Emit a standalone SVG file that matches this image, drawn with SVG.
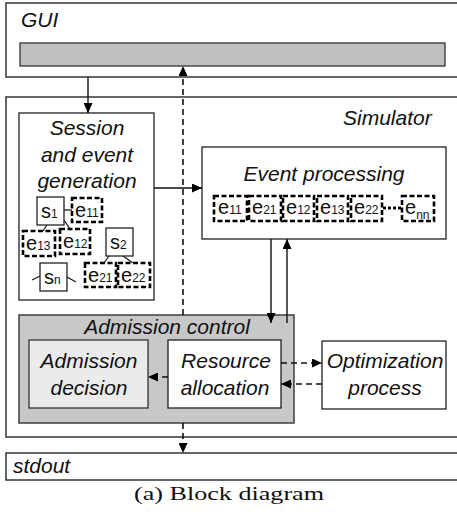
<svg xmlns="http://www.w3.org/2000/svg" width="457" height="516" viewBox="0 0 457 516">
  <style>
    .frame { fill: #fff; stroke: #333; stroke-width: 1.5; }
    .box { fill: #fff; stroke: #222; stroke-width: 1.3; }
    .lbl { font-family: "Liberation Sans", Arial, sans-serif; font-style: italic; font-size: 21px; fill: #111; }
    .mid { text-anchor: middle; }
    .ev { fill: #fff; stroke: #000; stroke-width: 2.6; stroke-dasharray: 5 2.5; }
    .sym { font-family: "Liberation Sans", Arial, sans-serif; font-size: 20px; fill: #111; }
    .sub { font-size: 12px; }
    .link { stroke: #111; stroke-width: 1.2; fill: none; }
    .solid { stroke: #111; stroke-width: 1.4; fill: none; marker-end: url(#head); }
    .dash { stroke: #111; stroke-width: 1.6; fill: none; stroke-dasharray: 6 4; marker-end: url(#head); }
  </style>
  <defs>
    <marker id="head" markerUnits="userSpaceOnUse" markerWidth="10" markerHeight="9" refX="10" refY="4.5" orient="auto">
      <path d="M0,0 L10,4.5 L0,9 z" fill="#000"/>
    </marker>
  </defs>

  <rect width="457" height="516" fill="#fff"/>

  <!-- GUI layer -->
  <g id="gui">
    <rect class="frame" x="6" y="3" width="470" height="74"/>
    <text class="lbl" x="21" y="27" font-size="20">GUI</text>
    <rect x="20" y="43" width="425" height="23" fill="#c0c0c0" stroke="#333" stroke-width="1.3"/>
  </g>

  <!-- Simulator layer -->
  <g id="simulator">
    <rect class="frame" x="6" y="97" width="470" height="340"/>
    <text class="lbl" x="343" y="125" font-size="20">Simulator</text>
  </g>

  <!-- stdout layer -->
  <g id="stdout">
    <rect class="frame" x="6" y="453" width="470" height="27"/>
    <text class="lbl" x="13" y="473" font-size="19">stdout</text>
  </g>

  <!-- Session and event generation -->
  <g id="session-generation">
    <rect class="box" x="19" y="113" width="135" height="187"/>
    <text class="lbl mid" x="87" y="135">Session</text>
    <text class="lbl mid" x="87" y="162">and event</text>
    <text class="lbl mid" x="87" y="188">generation</text>

    <!-- session s1 and its events -->
    <line class="link" x1="64" y1="210" x2="72" y2="210"/>
    <line class="link" x1="47" y1="225" x2="43" y2="231"/>
    <line class="link" x1="64" y1="220" x2="70" y2="229"/>
    <rect class="box" x="37" y="197" width="27" height="28"/>
    <text class="sym" x="41" y="218">s<tspan class="sub">1</tspan></text>
    <rect class="ev" x="72" y="198" width="30" height="24"/>
    <text class="sym" x="75" y="217">e<tspan class="sub">11</tspan></text>
    <rect class="ev" x="23" y="231" width="32" height="25"/>
    <text class="sym" x="26" y="250">e<tspan class="sub">13</tspan></text>
    <rect class="ev" x="60" y="229" width="30" height="25"/>
    <text class="sym" x="63" y="248">e<tspan class="sub">12</tspan></text>

    <!-- session s2 and its events -->
    <line class="link" x1="109" y1="256" x2="104" y2="263"/>
    <line class="link" x1="123" y1="256" x2="133" y2="263"/>
    <rect class="box" x="106" y="228" width="27" height="28"/>
    <text class="sym" x="110" y="249">s<tspan class="sub">2</tspan></text>
    <rect class="ev" x="85" y="263" width="31" height="24"/>
    <text class="sym" x="88" y="282">e<tspan class="sub">21</tspan></text>
    <rect class="ev" x="118" y="263" width="32" height="24"/>
    <text class="sym" x="121" y="282">e<tspan class="sub">22</tspan></text>

    <!-- session sn -->
    <line class="link" x1="32" y1="280" x2="40" y2="276"/>
    <line class="link" x1="67" y1="277" x2="76" y2="282"/>
    <rect class="box" x="40" y="263" width="27" height="28"/>
    <text class="sym" x="44" y="284">s<tspan class="sub">n</tspan></text>
  </g>

  <!-- Event processing -->
  <g id="event-processing">
    <rect class="box" x="202" y="147" width="244" height="92"/>
    <text class="lbl mid" x="324" y="181">Event processing</text>
    <rect class="ev" x="214" y="196" width="33" height="25"/>
    <text class="sym" x="218" y="214">e<tspan class="sub">11</tspan></text>
    <rect class="ev" x="249" y="196" width="32" height="25"/>
    <text class="sym" x="252" y="214">e<tspan class="sub">21</tspan></text>
    <rect class="ev" x="283" y="196" width="31" height="25"/>
    <text class="sym" x="286" y="214">e<tspan class="sub">12</tspan></text>
    <rect class="ev" x="317" y="196" width="31" height="25"/>
    <text class="sym" x="320" y="214">e<tspan class="sub">13</tspan></text>
    <rect class="ev" x="351" y="196" width="31" height="25"/>
    <text class="sym" x="354" y="214">e<tspan class="sub">22</tspan></text>
    <line x1="383" y1="208" x2="401" y2="208" stroke="#000" stroke-width="3" stroke-dasharray="3 2"/>
    <rect class="ev" x="402" y="196" width="32" height="25"/>
    <text class="sym" x="405" y="214">e<tspan class="sub" dy="5">nn</tspan></text>
  </g>

  <!-- Admission control -->
  <g id="admission-control">
    <rect x="19" y="315" width="275" height="108" fill="#c8c8c8" stroke="#333" stroke-width="1.4"/>
    <text class="lbl mid" x="167" y="334">Admission control</text>
  </g>

  <g id="admission-decision">
    <rect x="29" y="340" width="119" height="68" fill="#ebebeb" stroke="#333" stroke-width="1.3"/>
    <text class="lbl mid" x="89" y="368">Admission</text>
    <text class="lbl mid" x="89" y="395">decision</text>
  </g>

  <g id="resource-allocation">
    <rect class="box" x="168" y="340" width="113" height="68"/>
    <text class="lbl mid" x="226" y="368">Resource</text>
    <text class="lbl mid" x="225" y="395">allocation</text>
  </g>

  <g id="optimization-process">
    <rect class="box" x="322" y="341" width="124" height="68"/>
    <text class="lbl mid" x="385" y="368">Optimization</text>
    <text class="lbl mid" x="385" y="395">process</text>
  </g>

  <!-- Connectors -->
  <g id="connectors">
    <line class="solid" x1="88" y1="77" x2="88" y2="113"/>
    <line class="dash" x1="183" y1="315" x2="183" y2="66"/>
    <line class="dash" x1="183" y1="423" x2="183" y2="453"/>
    <line class="solid" x1="154" y1="188" x2="202" y2="188"/>
    <line class="solid" x1="271" y1="239" x2="271" y2="323"/>
    <line class="solid" x1="287" y1="323" x2="287" y2="239"/>
    <line class="dash" x1="281" y1="363" x2="322" y2="363"/>
    <line class="dash" x1="322" y1="384" x2="281" y2="384"/>
    <line class="dash" x1="168" y1="377" x2="148" y2="377"/>
  </g>

  <!-- Caption -->
  <text x="229" y="500" text-anchor="middle" font-family="'Liberation Serif', 'DejaVu Serif', serif" font-size="19" textLength="190" lengthAdjust="spacingAndGlyphs" fill="#111">(a) Block diagram</text>
</svg>
